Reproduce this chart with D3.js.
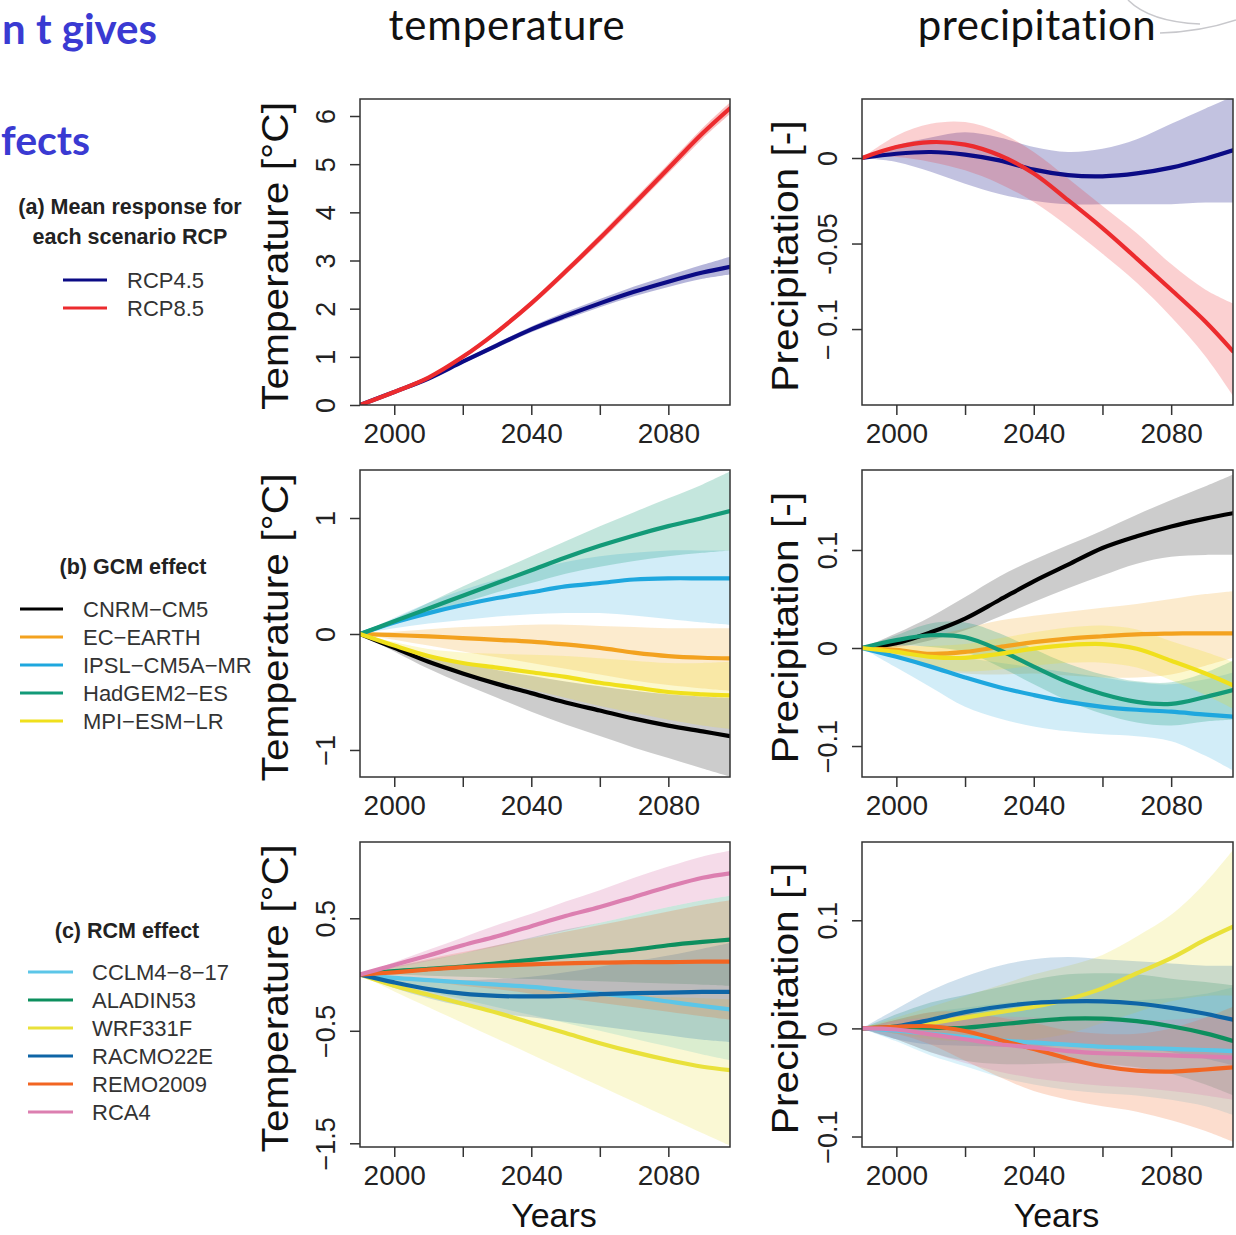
<!DOCTYPE html>
<html lang="en">
<head>
<meta charset="utf-8" />
<title>Mean response, GCM and RCM effects</title>
<script src="https://d3js.org/d3.v7.min.js"></script>
<style>
  body { margin: 0; background: #fff; }
  svg { display: block; }
  .tick text { font-family: "Liberation Sans", Arial, sans-serif; fill: #222; }
  .tick line { stroke: #333; stroke-width: 1.5; }
</style>
</head>
<body>
<div id="chart"></div>
<script>
// years of the smoothed responses
const years = [1990, 2000, 2010, 2020, 2030, 2040, 2050, 2060, 2070, 2080, 2090, 2098];

// (a) mean response, temperature
const tRcp45   = [0, 0.27, 0.55, 0.90, 1.24, 1.57, 1.85, 2.11, 2.35, 2.56, 2.75, 2.87];
const tRcp45Lo = [0, 0.25, 0.52, 0.86, 1.19, 1.51, 1.78, 2.03, 2.26, 2.45, 2.62, 2.71];
const tRcp45Hi = [0, 0.29, 0.58, 0.94, 1.29, 1.63, 1.93, 2.20, 2.46, 2.69, 2.91, 3.08];
const tRcp85   = [0, 0.27, 0.57, 1.00, 1.52, 2.11, 2.77, 3.46, 4.18, 4.91, 5.64, 6.16];
const tRcp85Lo = [0, 0.25, 0.54, 0.96, 1.47, 2.05, 2.70, 3.38, 4.09, 4.81, 5.53, 6.04];
const tRcp85Hi = [0, 0.29, 0.60, 1.04, 1.57, 2.17, 2.84, 3.54, 4.27, 5.01, 5.75, 6.28];

// (a) mean response, precipitation
const pRcp45   = [0, 0.0025, 0.0035, 0.002, -0.0014, -0.0068, -0.010, -0.0107, -0.009, -0.0056, -0.0004, 0.0045];
const pRcp45Lo = [0, -0.0023, -0.008, -0.015, -0.021, -0.025, -0.027, -0.027, -0.027, -0.027, -0.026, -0.026];
const pRcp45Hi = [0, 0.0074, 0.012, 0.015, 0.012, 0.0064, 0.0035, 0.0054, 0.011, 0.020, 0.029, 0.036];
const pRcp85   = [0, 0.0064, 0.0093, 0.0078, 0.0016, -0.0091, -0.0247, -0.041, -0.0588, -0.077, -0.0957, -0.113];
const pRcp85Lo = [0, 0.0006, -0.0023, -0.0072, -0.015, -0.0257, -0.040, -0.056, -0.073, -0.093, -0.116, -0.139];
const pRcp85Hi = [0, 0.013, 0.020, 0.021, 0.015, 0.0035, -0.012, -0.028, -0.044, -0.062, -0.077, -0.085];

// (b) GCM effect, temperature
const tCnrm   = [0, -0.12, -0.24, -0.34, -0.43, -0.51, -0.59, -0.66, -0.73, -0.79, -0.84, -0.88];
const tCnrmLo = [0, -0.15, -0.30, -0.43, -0.55, -0.67, -0.78, -0.88, -0.98, -1.07, -1.16, -1.23];
const tCnrmHi = [0, -0.09, -0.18, -0.25, -0.31, -0.36, -0.41, -0.45, -0.49, -0.52, -0.54, -0.55];
const tEc     = [0, -0.01, -0.02, -0.035, -0.05, -0.065, -0.09, -0.12, -0.16, -0.19, -0.205, -0.21];
const tEcLo   = [0, -0.05, -0.10, -0.15, -0.20, -0.25, -0.30, -0.35, -0.40, -0.44, -0.47, -0.49];
const tEcHi   = [0, 0.02, 0.04, 0.06, 0.07, 0.08, 0.08, 0.07, 0.06, 0.05, 0.05, 0.05];
const tIpsl   = [0, 0.10, 0.18, 0.25, 0.31, 0.36, 0.41, 0.44, 0.47, 0.48, 0.48, 0.48];
const tIpslLo = [0, 0.05, 0.09, 0.12, 0.15, 0.17, 0.18, 0.18, 0.16, 0.13, 0.10, 0.08];
const tIpslHi = [0, 0.14, 0.27, 0.38, 0.47, 0.55, 0.62, 0.67, 0.70, 0.72, 0.72, 0.72];
const tHad    = [0, 0.11, 0.22, 0.33, 0.44, 0.55, 0.66, 0.76, 0.85, 0.93, 1.00, 1.06];
const tHadLo  = [0, 0.09, 0.18, 0.27, 0.36, 0.44, 0.52, 0.58, 0.63, 0.67, 0.70, 0.72];
const tHadHi  = [0, 0.13, 0.27, 0.41, 0.54, 0.67, 0.80, 0.93, 1.05, 1.17, 1.29, 1.40];
const tMpi    = [0, -0.10, -0.19, -0.25, -0.29, -0.33, -0.37, -0.42, -0.46, -0.50, -0.52, -0.53];
const tMpiLo  = [0, -0.13, -0.25, -0.34, -0.41, -0.48, -0.55, -0.62, -0.68, -0.74, -0.79, -0.82];
const tMpiHi  = [0, -0.07, -0.13, -0.16, -0.17, -0.18, -0.19, -0.21, -0.23, -0.25, -0.25, -0.24];

// (b) GCM effect, precipitation
const pCnrm   = [0, 0.005, 0.016, 0.030, 0.049, 0.068, 0.085, 0.102, 0.114, 0.124, 0.132, 0.1375];
const pCnrmLo = [0, 0.001, 0.008, 0.018, 0.032, 0.047, 0.061, 0.074, 0.086, 0.093, 0.095, 0.095];
const pCnrmHi = [0, 0.015, 0.032, 0.052, 0.073, 0.090, 0.105, 0.120, 0.136, 0.151, 0.165, 0.177];
const pEc     = [0, -0.002, -0.006, -0.004, 0.001, 0.006, 0.0096, 0.012, 0.014, 0.0147, 0.015, 0.015];
const pEcLo   = [0, -0.008, -0.020, -0.026, -0.027, -0.026, -0.028, -0.030, -0.030, -0.027, -0.018, -0.010];
const pEcHi   = [0, 0.005, 0.012, 0.020, 0.028, 0.033, 0.037, 0.041, 0.045, 0.050, 0.055, 0.058];
const pIpsl   = [0, -0.009, -0.019, -0.030, -0.040, -0.048, -0.055, -0.060, -0.063, -0.065, -0.068, -0.070];
const pIpslLo = [0, -0.020, -0.040, -0.060, -0.072, -0.080, -0.085, -0.088, -0.090, -0.095, -0.110, -0.125];
const pIpslHi = [0, -0.002, -0.005, -0.010, -0.015, -0.020, -0.025, -0.030, -0.035, -0.037, -0.032, -0.025];
const pHad    = [0, 0.008, 0.013, 0.011, -0.002, -0.019, -0.035, -0.047, -0.055, -0.057, -0.050, -0.043];
const pHadLo  = [0, 0.003, 0.001, -0.004, -0.019, -0.037, -0.054, -0.067, -0.076, -0.079, -0.075, -0.073];
const pHadHi  = [0, 0.013, 0.025, 0.026, 0.015, -0.001, -0.016, -0.027, -0.034, -0.035, -0.025, -0.013];
const pMpi    = [0, -0.004, -0.009, -0.010, -0.006, -0.0007, 0.003, 0.004, -0.0007, -0.013, -0.026, -0.038];
const pMpiLo  = [0, -0.010, -0.020, -0.024, -0.022, -0.018, -0.015, -0.015, -0.020, -0.033, -0.048, -0.062];
const pMpiHi  = [0, 0.002, 0.002, 0.004, 0.010, 0.016, 0.021, 0.023, 0.019, 0.007, -0.004, -0.014];

// (c) RCM effect, temperature
const tCclm     = [0, -0.03, -0.05, -0.07, -0.09, -0.11, -0.14, -0.17, -0.20, -0.24, -0.28, -0.31];
const tCclmLo   = [0, -0.08, -0.15, -0.22, -0.29, -0.36, -0.43, -0.50, -0.57, -0.64, -0.71, -0.76];
const tCclmHi   = [0, 0.02, 0.04, 0.06, 0.07, 0.08, 0.08, 0.09, 0.09, 0.10, 0.10, 0.10];
const tAladin   = [0, 0.03, 0.05, 0.07, 0.10, 0.13, 0.16, 0.19, 0.22, 0.26, 0.29, 0.31];
const tAladinLo = [0, 0.00, -0.01, -0.02, -0.03, -0.04, -0.05, -0.06, -0.07, -0.08, -0.09, -0.10];
const tAladinHi = [0, 0.07, 0.13, 0.19, 0.26, 0.33, 0.40, 0.46, 0.53, 0.60, 0.66, 0.70];
const tWrf      = [0, -0.10, -0.18, -0.26, -0.34, -0.43, -0.52, -0.61, -0.69, -0.76, -0.82, -0.85];
const tWrfLo    = [0, -0.15, -0.29, -0.43, -0.57, -0.71, -0.85, -0.99, -1.13, -1.27, -1.41, -1.52];
const tWrfHi    = [0, -0.04, -0.06, -0.08, -0.10, -0.12, -0.14, -0.16, -0.18, -0.20, -0.21, -0.22];
const tRacmo    = [0, -0.07, -0.13, -0.17, -0.19, -0.195, -0.19, -0.175, -0.165, -0.16, -0.155, -0.155];
const tRacmoLo  = [0, -0.12, -0.21, -0.28, -0.34, -0.38, -0.42, -0.46, -0.50, -0.54, -0.58, -0.60];
const tRacmoHi  = [0, -0.02, -0.04, -0.05, -0.04, -0.02, 0.02, 0.07, 0.12, 0.17, 0.23, 0.28];
const tRemo     = [0, 0.02, 0.045, 0.065, 0.08, 0.09, 0.10, 0.105, 0.11, 0.11, 0.115, 0.115];
const tRemoLo   = [0, -0.03, -0.06, -0.10, -0.13, -0.17, -0.21, -0.25, -0.29, -0.33, -0.37, -0.40];
const tRemoHi   = [0, 0.07, 0.14, 0.20, 0.26, 0.32, 0.38, 0.44, 0.50, 0.56, 0.62, 0.66];
const tRca      = [0, 0.085, 0.17, 0.26, 0.34, 0.43, 0.52, 0.60, 0.69, 0.78, 0.86, 0.90];
const tRcaLo    = [0, 0.06, 0.12, 0.19, 0.25, 0.32, 0.39, 0.46, 0.53, 0.60, 0.66, 0.70];
const tRcaHi    = [0, 0.11, 0.22, 0.33, 0.44, 0.54, 0.65, 0.75, 0.86, 0.96, 1.05, 1.10];

// (c) RCM effect, precipitation
const pCclm     = [0, -0.002, -0.005, -0.008, -0.011, -0.013, -0.015, -0.017, -0.018, -0.019, -0.020, -0.021];
const pCclmLo   = [0, -0.012, -0.025, -0.035, -0.045, -0.052, -0.057, -0.060, -0.062, -0.066, -0.072, -0.080];
const pCclmHi   = [0, 0.008, 0.015, 0.019, 0.023, 0.026, 0.027, 0.026, 0.026, 0.028, 0.032, 0.038];
const pAladin   = [0, 0.0015, 0.0006, 0.0006, 0.0037, 0.0067, 0.009, 0.009, 0.0067, 0.002, -0.0046, -0.0116];
const pAladinLo = [0, -0.010, -0.022, -0.030, -0.033, -0.033, -0.032, -0.033, -0.036, -0.042, -0.052, -0.062];
const pAladinHi = [0, 0.013, 0.024, 0.031, 0.038, 0.045, 0.050, 0.051, 0.050, 0.046, 0.043, 0.040];
const pWrf      = [0, 0.002, 0.005, 0.010, 0.015, 0.020, 0.027, 0.037, 0.051, 0.065, 0.082, 0.094];
const pWrfLo    = [0, -0.005, -0.010, -0.012, -0.012, -0.010, -0.005, 0.005, 0.015, 0.025, 0.030, 0.030];
const pWrfHi    = [0, 0.010, 0.020, 0.030, 0.040, 0.050, 0.058, 0.068, 0.085, 0.105, 0.135, 0.165];
const pRacmo    = [0, 0.002, 0.008, 0.015, 0.020, 0.0235, 0.025, 0.025, 0.023, 0.019, 0.0135, 0.008];
const pRacmoLo  = [0, -0.010, -0.015, -0.016, -0.017, -0.017, -0.016, -0.016, -0.018, -0.022, -0.028, -0.034];
const pRacmoHi  = [0, 0.018, 0.035, 0.048, 0.058, 0.064, 0.066, 0.064, 0.062, 0.060, 0.058, 0.058];
const pRemo     = [0, 0.0015, 0.002, -0.0024, -0.0107, -0.019, -0.028, -0.035, -0.039, -0.040, -0.038, -0.036];
const pRemoLo   = [0, -0.005, -0.015, -0.030, -0.045, -0.058, -0.066, -0.072, -0.077, -0.085, -0.095, -0.105];
const pRemoHi   = [0, 0.008, 0.015, 0.015, 0.010, 0.005, -0.002, -0.005, -0.005, 0.000, 0.010, 0.020];
const pRca      = [0, -0.001, -0.0055, -0.010, -0.0147, -0.0177, -0.021, -0.023, -0.024, -0.025, -0.026, -0.027];
const pRcaLo    = [0, -0.010, -0.022, -0.032, -0.040, -0.046, -0.050, -0.053, -0.055, -0.058, -0.062, -0.066];
const pRcaHi    = [0, 0.007, 0.010, 0.012, 0.011, 0.010, 0.008, 0.007, 0.007, 0.008, 0.010, 0.012];

// legend names and colours
const rcpNames = ["RCP4.5", "RCP8.5"];
const rcpColors = ["#0b0b85", "#ec2b2e"];
const gcmNames = ["CNRM\u2212CM5", "EC\u2212EARTH", "IPSL\u2212CM5A\u2212MR", "HadGEM2\u2212ES", "MPI\u2212ESM\u2212LR"];
const gcmColors = ["#000000", "#f3a21f", "#1ea7de", "#139a78", "#f0e01c"];
const rcmNames = ["CCLM4\u22128\u221217", "ALADIN53", "WRF331F", "RACMO22E", "REMO2009", "RCA4"];
const rcmColors = ["#5cc6e8", "#0d8f5e", "#e9e13a", "#0e65a6", "#f26522", "#dc7fb0"];

// axis ticks
const xTicks = [2000, 2020, 2040, 2060, 2080];
const xTickLabels = ["2000", "", "2040", "", "2080"];
const aTempTicks = [0, 1, 2, 3, 4, 5, 6];
const aTempLabels = ["0", "1", "2", "3", "4", "5", "6"];
const aPrecTicks = [0, -0.05, -0.1];
const aPrecLabels = ["0", "-0.05", "\u2212 0.1"];
const bTempTicks = [1, 0, -1];
const bTempLabels = ["1", "0", "\u22121"];
const bPrecTicks = [0.1, 0, -0.1];
const bPrecLabels = ["0.1", "0", "\u22120.1"];
const cTempTicks = [0.5, -0.5, -1.5];
const cTempLabels = ["0.5", "\u22120.5", "\u22121.5"];
const cPrecTicks = [0.1, 0, -0.1];
const cPrecLabels = ["0.1", "0", "\u22120.1"];

// ---- layout ----
const W = 1236, H = 1235;
const cols = [{ left: 360, right: 730, titleOff: 72 }, { left: 862, right: 1233, titleOff: 64 }];
const rows = [{ top: 99, bottom: 405 }, { top: 470, bottom: 777 }, { top: 842, bottom: 1147 }];
const sansFont = '"Liberation Sans", Arial, sans-serif';

const svg = d3.select("#chart").append("svg")
    .attr("width", W)
    .attr("height", H);

function mk(names, colors, arrs, bandOpacity) {
    return names.map((n, i) => ({
        name: n, color: colors[i], mean: arrs[i][0], lo: arrs[i][1], hi: arrs[i][2],
        bandOpacity: bandOpacity[i]
    }));
}

const panels = [
    { r: 0, c: 0, domain: [0, 6.353], ticks: aTempTicks, labels: aTempLabels, ytitle: "Temperature [°C]",
      series: mk(rcpNames, rcpColors, [[tRcp45, tRcp45Lo, tRcp45Hi], [tRcp85, tRcp85Lo, tRcp85Hi]], [0.3, 0.3]) },
    { r: 0, c: 1, domain: [-0.1444, 0.0345], ticks: aPrecTicks, labels: aPrecLabels, ytitle: "Precipitation [-]",
      series: mk(rcpNames, rcpColors, [[pRcp45, pRcp45Lo, pRcp45Hi], [pRcp85, pRcp85Lo, pRcp85Hi]], [0.25, 0.22]) },
    { r: 1, c: 0, domain: [-1.233, 1.414], ticks: bTempTicks, labels: bTempLabels, ytitle: "Temperature [°C]",
      series: mk(gcmNames, gcmColors, [[tCnrm, tCnrmLo, tCnrmHi], [tEc, tEcLo, tEcHi], [tIpsl, tIpslLo, tIpslHi],
          [tHad, tHadLo, tHadHi], [tMpi, tMpiLo, tMpiHi]], [0.2, 0.22, 0.2, 0.25, 0.22]) },
    { r: 1, c: 1, domain: [-0.1316, 0.1816], ticks: bPrecTicks, labels: bPrecLabels, ytitle: "Precipitation [-]",
      series: mk(gcmNames, gcmColors, [[pCnrm, pCnrmLo, pCnrmHi], [pEc, pEcLo, pEcHi], [pIpsl, pIpslLo, pIpslHi],
          [pHad, pHadLo, pHadHi], [pMpi, pMpiLo, pMpiHi]], [0.2, 0.22, 0.2, 0.25, 0.22]) },
    { r: 2, c: 0, domain: [-1.533, 1.178], ticks: cTempTicks, labels: cTempLabels, ytitle: "Temperature [°C]",
      series: mk(rcmNames, rcmColors, [[tCclm, tCclmLo, tCclmHi], [tAladin, tAladinLo, tAladinHi], [tWrf, tWrfLo, tWrfHi],
          [tRacmo, tRacmoLo, tRacmoHi], [tRemo, tRemoLo, tRemoHi], [tRca, tRcaLo, tRcaHi]], [0.25, 0.22, 0.22, 0.2, 0.22, 0.28]) },
    { r: 2, c: 1, domain: [-0.1097, 0.1724], ticks: cPrecTicks, labels: cPrecLabels, ytitle: "Precipitation [-]",
      series: mk(rcmNames, rcmColors, [[pCclm, pCclmLo, pCclmHi], [pAladin, pAladinLo, pAladinHi], [pWrf, pWrfLo, pWrfHi],
          [pRacmo, pRacmoLo, pRacmoHi], [pRemo, pRemoLo, pRemoHi], [pRca, pRcaLo, pRcaHi]], [0.22, 0.22, 0.22, 0.2, 0.22, 0.25]) }
];

const curve = d3.curveCatmullRom.alpha(0.5);

panels.forEach((p, k) => {
    const col = cols[p.c], row = rows[p.r];
    const x = d3.scaleLinear().domain([1990, 2098]).range([col.left, col.right]);
    const y = d3.scaleLinear().domain(p.domain).range([row.bottom, row.top]);

    const clipId = "clip" + k;
    svg.append("clipPath").attr("id", clipId)
        .append("rect")
        .attr("x", col.left).attr("y", row.top)
        .attr("width", col.right - col.left).attr("height", row.bottom - row.top);

    const g = svg.append("g").attr("clip-path", "url(#" + clipId + ")");

    const area = d3.area()
        .x((d, i) => x(years[i]))
        .y0(d => y(d[0]))
        .y1(d => y(d[1]))
        .curve(curve);
    const line = d3.line()
        .x((d, i) => x(years[i]))
        .y(d => y(d))
        .curve(curve);

    // uncertainty bands first
    g.selectAll(".band")
        .data(p.series)
        .enter()
        .append("path")
        .attr("class", "band")
        .attr("d", s => area(s.lo.map((v, i) => [v, s.hi[i]])))
        .attr("fill", s => s.color)
        .attr("fill-opacity", s => s.bandOpacity)
        .attr("stroke", "none");

    // mean lines
    g.selectAll(".mean")
        .data(p.series)
        .enter()
        .append("path")
        .attr("class", "mean")
        .attr("d", s => line(s.mean))
        .attr("fill", "none")
        .attr("stroke", s => s.color)
        .attr("stroke-width", 4.2)
        .attr("stroke-linecap", "round");

    // x axis
    const xAxis = d3.axisBottom(x)
        .tickValues(xTicks)
        .tickFormat((d, i) => xTickLabels[i])
        .tickSize(10)
        .tickSizeOuter(0)
        .tickPadding(8);
    const gx = svg.append("g")
        .attr("transform", "translate(0," + row.bottom + ")")
        .call(xAxis);
    gx.select(".domain").remove();
    gx.selectAll("text").attr("font-size", 28).attr("font-family", sansFont);

    // y axis, labels parallel to the axis
    const yAxis = d3.axisLeft(y)
        .tickValues(p.ticks)
        .tickFormat((d, i) => p.labels[i])
        .tickSize(10)
        .tickSizeOuter(0);
    const gy = svg.append("g")
        .attr("transform", "translate(" + col.left + ",0)")
        .call(yAxis);
    gy.select(".domain").remove();
    gy.selectAll("text")
        .attr("x", null).attr("dy", null)
        .attr("text-anchor", "middle")
        .attr("transform", "translate(-25,0) rotate(-90)")
        .attr("font-size", 27)
        .attr("font-family", sansFont);

    // frame
    svg.append("rect")
        .attr("x", col.left).attr("y", row.top)
        .attr("width", col.right - col.left).attr("height", row.bottom - row.top)
        .attr("fill", "none")
        .attr("stroke", "#333")
        .attr("stroke-width", 1.5);

    // y title, stretched along its reading direction like the original
    const cy = (row.top + row.bottom) / 2 + 4;
    svg.append("text")
        .attr("transform", "translate(" + (col.left - col.titleOff) + "," + cy + ") rotate(-90) scale(1.13,1)")
        .attr("text-anchor", "middle")
        .attr("font-family", sansFont)
        .attr("font-size", 36)
        .attr("fill", "#111")
        .text(p.ytitle);

    if (p.r === 2) {
        svg.append("text")
            .attr("x", (col.left + col.right) / 2 + 9)
            .attr("y", 1227)
            .attr("text-anchor", "middle")
            .attr("font-family", sansFont)
            .attr("font-size", 34)
            .attr("fill", "#111")
            .text("Years");
    }
});

// column headings
const headFont = 'Lato, "Open Sans", sans-serif';
svg.append("text").attr("x", 507).attr("y", 40).attr("text-anchor", "middle")
    .attr("font-family", headFont).attr("font-size", 42).attr("letter-spacing", 0.8)
    .attr("fill", "#111").text("temperature");
svg.append("text").attr("x", 1037).attr("y", 40).attr("text-anchor", "middle")
    .attr("font-family", headFont).attr("font-size", 42).attr("letter-spacing", 0.5)
    .attr("fill", "#111").text("precipitation");

// slide title fragments at the left edge
svg.append("text").attr("x", 2).attr("y", 44).attr("text-anchor", "start")
    .attr("font-family", headFont).attr("font-weight", "bold").attr("font-size", 42)
    .attr("fill", "#3a3ad2").text("n t gives");
svg.append("text").attr("x", 1).attr("y", 155).attr("text-anchor", "start")
    .attr("font-family", headFont).attr("font-weight", "bold").attr("font-size", 41)
    .attr("fill", "#3a3ad2").text("fects");

// faint decorative arc at the top right
svg.append("path")
    .attr("d", "M1128,0 Q1150,22 1200,24")
    .attr("fill", "none").attr("stroke", "#c8c8cc").attr("stroke-width", 1.5);
svg.append("path")
    .attr("d", "M1160,33 Q1200,32 1236,20")
    .attr("fill", "none").attr("stroke", "#c8c8cc").attr("stroke-width", 1.5);

// legends
function legend(title, names, colors, cx, titleY, lineX0, lineX1, textX, firstY, step) {
    const lg = svg.append("g");
    title.forEach((t, i) => {
        lg.append("text")
            .attr("x", cx).attr("y", titleY + i * 30)
            .attr("text-anchor", "middle")
            .attr("font-family", sansFont).attr("font-weight", "bold")
            .attr("font-size", 21.5).attr("fill", "#222")
            .text(t);
    });
    const items = lg.selectAll(".item")
        .data(names)
        .enter()
        .append("g")
        .attr("class", "item")
        .attr("transform", (d, i) => "translate(0," + (firstY + i * step) + ")");
    items.append("line")
        .attr("x1", lineX0).attr("x2", lineX1)
        .attr("stroke", (d, i) => colors[i])
        .attr("stroke-width", 3);
    items.append("text")
        .attr("x", textX).attr("y", 7.5)
        .attr("font-family", sansFont).attr("font-size", 22)
        .attr("fill", "#333")
        .text(d => d);
}

legend(["(a) Mean response for", "each scenario RCP"], rcpNames, rcpColors, 130, 214, 63, 107, 127, 280, 28);
legend(["(b) GCM effect"], gcmNames, gcmColors, 133, 574, 20, 63, 83, 609, 28);
legend(["(c) RCM effect"], rcmNames, rcmColors, 127, 938, 28, 73, 92, 972, 28);
</script>
</body>
</html>
